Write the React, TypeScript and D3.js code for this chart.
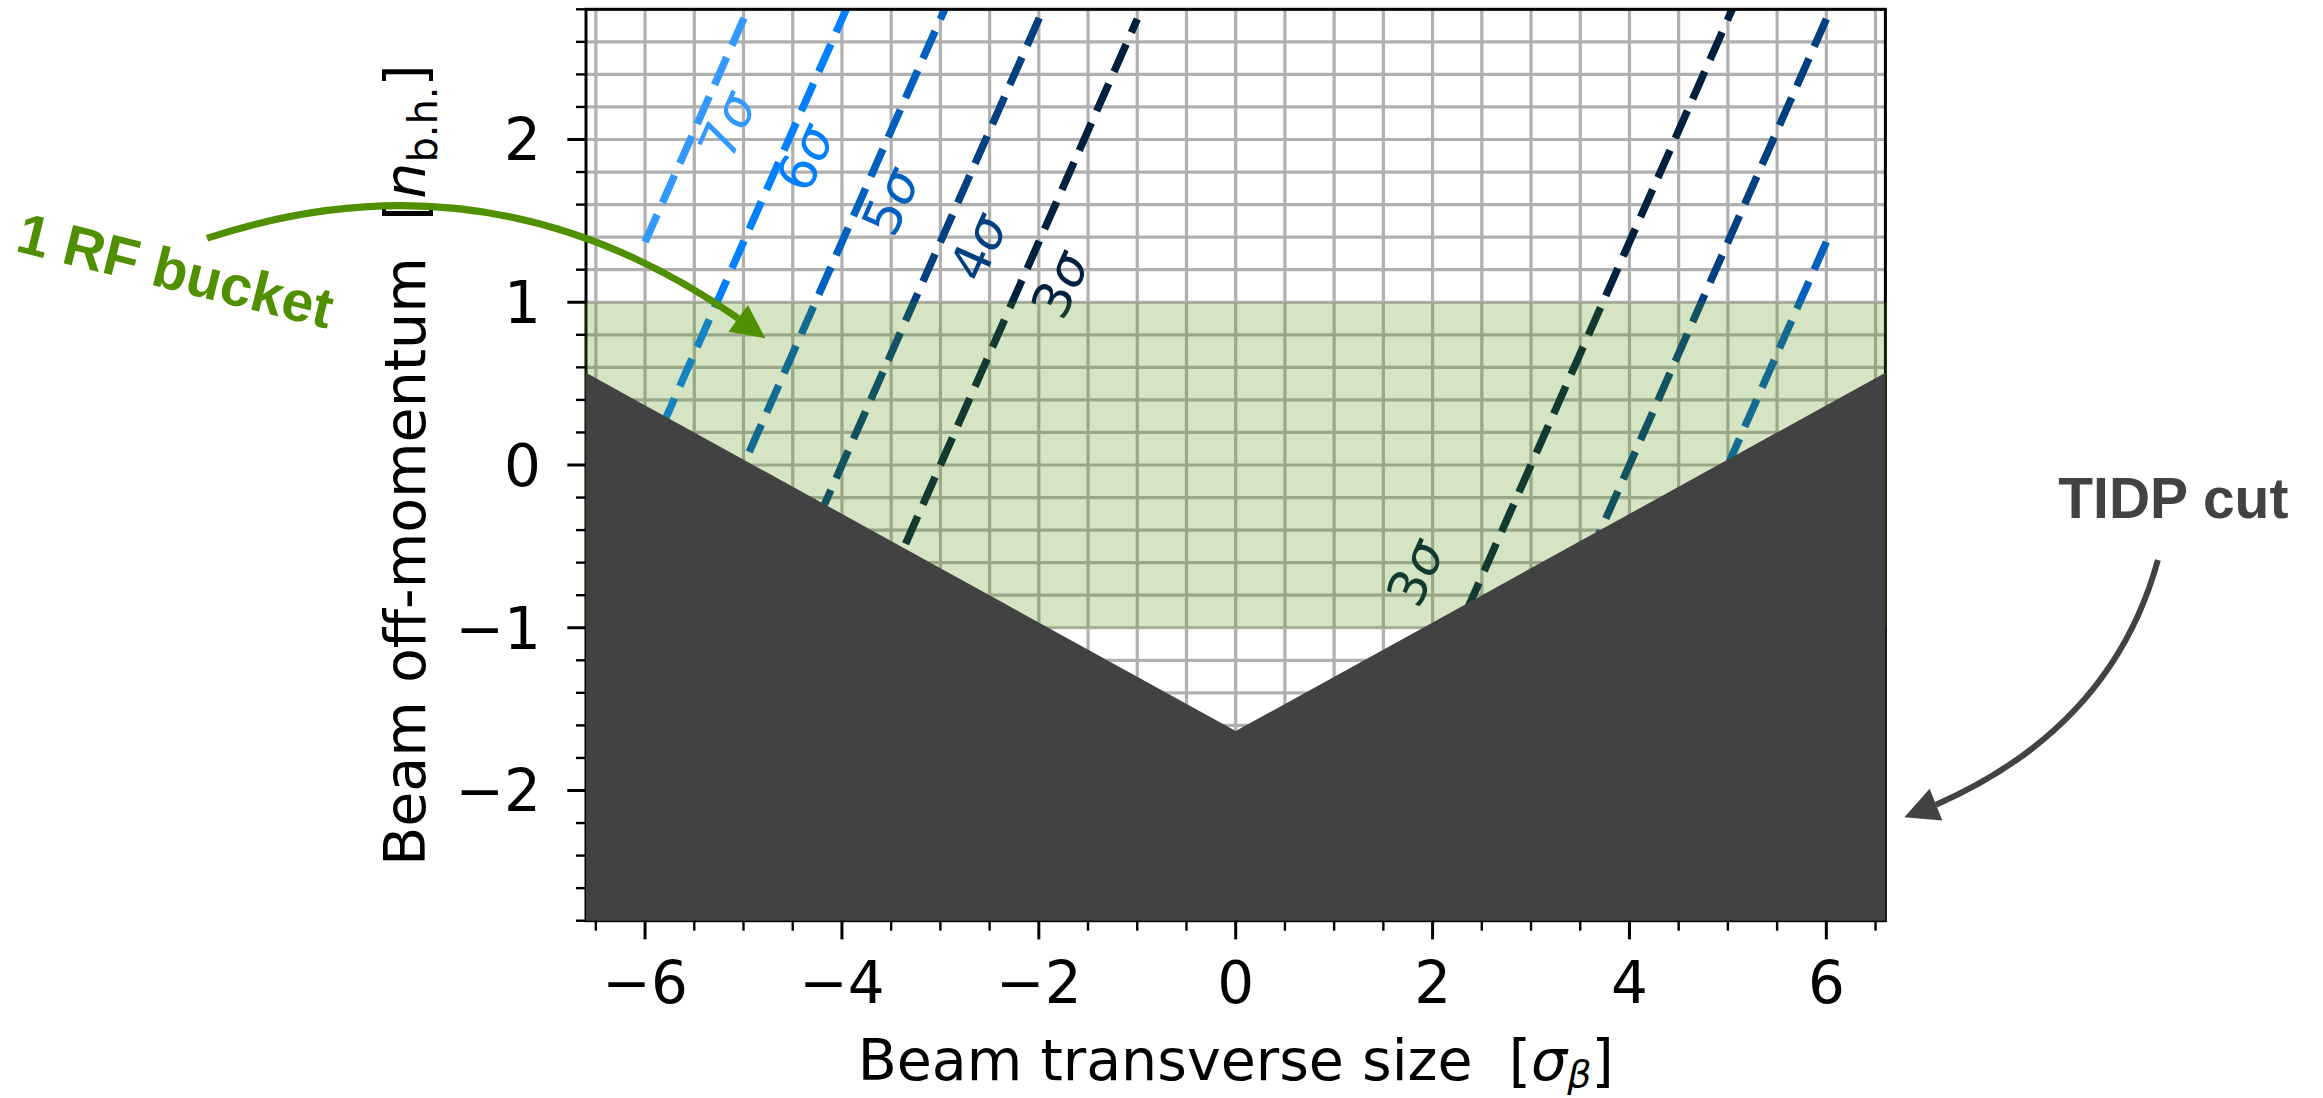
import React, { useEffect, useRef } from 'react'
import * as d3 from 'd3'

const WIDTH = 2323
const HEIGHT = 1098

// axes
const xDomain = [-6.6, 6.6]
const yDomain = [-2.8, 2.8]
const xTicks = [-6, -4, -2, 0, 2, 4, 6]
const yTicks = [-2, -1, 0, 1, 2]
const xMinorStep = 0.5
const yMinorStep = 0.2

// n-sigma envelopes, x = -n + slope*y (left) and x = n + slope*y (right)
const sigmaLeft = [7, 6, 5, 4, 3]
const sigmaRight = [3, 4, 5]
const sigmaColors = { 3: '#002040', 4: '#004080', 5: '#0060c0', 6: '#0080ff', 7: '#3399ff' }
const dispersionSlope = 0.73
const envelopeLimits = [1, 6]

// where the labels sit (data coords)
const leftLabelX = [-5.17, -4.38, -3.51, -2.62, -1.79]
const leftLabelY = [2.09, 1.89, 1.62, 1.34, 1.11]
const rightLabelX = [1.82]
const rightLabelY = [-0.66]

// RF bucket
const bucketLimits = [-1, 1]

// TIDP cut
const cutX = [-6.6, 0, 6.6]
const cutY = [0.567, -1.635, 0.567]

// annotations (data coords: start, control, tip)
const bucketArrow = [[-10.45, 1.393], [-7.42, 1.998], [-4.778, 0.779]]
const bucketText = [-10.77, 1.196]
const cutArrow = [[9.368, -0.584], [8.861, -1.703], [6.793, -2.165]]
const cutText = [9.525, -0.324]

const GREEN = '#4f8f00'
const GREY = '#424242'
const FONT = 'DejaVu Sans'
const BOLD = 'Liberation Sans, Arial, sans-serif'

function drawArrow(g, pts, color, width, headLen, headWidth) {
  const [S, C, E] = pts
  const B = (t) => [
    (1 - t) * (1 - t) * S[0] + 2 * t * (1 - t) * C[0] + t * t * E[0],
    (1 - t) * (1 - t) * S[1] + 2 * t * (1 - t) * C[1] + t * t * E[1],
  ]
  let t = 1
  while (t > 0) {
    const p = B(t)
    if (Math.hypot(E[0] - p[0], E[1] - p[1]) >= headLen) break
    t -= 0.002
  }
  const P = B(t)
  const Q = [(1 - t) * S[0] + t * C[0], (1 - t) * S[1] + t * C[1]]
  g.append('path')
    .attr('d', `M${S[0]},${S[1]} Q${Q[0]},${Q[1]} ${P[0]},${P[1]}`)
    .attr('fill', 'none')
    .attr('stroke', color)
    .attr('stroke-width', width)
  const len = Math.hypot(E[0] - P[0], E[1] - P[1])
  const u = [(E[0] - P[0]) / len, (E[1] - P[1]) / len]
  const n = [-u[1], u[0]]
  const hw = headWidth / 2
  g.append('path')
    .attr('d', `M${E[0]},${E[1]} L${P[0] + n[0] * hw},${P[1] + n[1] * hw} L${P[0] - n[0] * hw},${P[1] - n[1] * hw} Z`)
    .attr('fill', color)
}

export default function App() {
  const ref = useRef(null)

  useEffect(() => {
    const svg = d3.select(ref.current)
    svg.selectAll('*').remove()

    const x = d3.scaleLinear().domain(xDomain).range([586, 1885.4])
    const y = d3.scaleLinear().domain(yDomain).range([920.7, 9.3])
    const [x0, x1] = x.range()
    const [y0, y1] = [y(yDomain[1]), y(yDomain[0])]

    svg.append('rect').attr('width', WIDTH).attr('height', HEIGHT).attr('fill', '#fff')

    svg.append('defs').append('clipPath').attr('id', 'plot')
      .append('rect').attr('x', x0).attr('y', y0).attr('width', x1 - x0).attr('height', y1 - y0)

    const xMinor = d3.range(Math.round(xDomain[0] / xMinorStep), Math.round(xDomain[1] / xMinorStep) + 1).map(i => i * xMinorStep)
      .filter(v => v >= xDomain[0] && v <= xDomain[1])
    const yMinor = d3.range(Math.round(yDomain[0] / yMinorStep), Math.round(yDomain[1] / yMinorStep) + 1).map(i => +(i * yMinorStep).toFixed(2))

    // grid
    const grid = svg.append('g').attr('clip-path', 'url(#plot)')
    grid.selectAll('.gx').data(xMinor).enter().append('line')
      .attr('x1', d => x(d)).attr('x2', d => x(d)).attr('y1', y0).attr('y2', y1)
      .attr('stroke', '#b0b0b0').attr('stroke-width', 3.2)
    grid.selectAll('.gy').data(yMinor).enter().append('line')
      .attr('y1', d => y(d)).attr('y2', d => y(d)).attr('x1', x0).attr('x2', x1)
      .attr('stroke', '#b0b0b0').attr('stroke-width', 3.2)

    // envelopes
    const envelopes = [
      ...sigmaLeft.map((n, i) => ({ n, side: -1, lx: leftLabelX[i], ly: leftLabelY[i] })),
      ...sigmaRight.map((n, i) => ({ n, side: 1, lx: rightLabelX[i], ly: rightLabelY[i] })),
    ]
    const lines = svg.append('g').attr('clip-path', 'url(#plot)')
    const line = d3.line().x(d => x(d[0])).y(d => y(d[1]))
    envelopes.forEach(e => {
      const xs = e.side < 0 ? [-envelopeLimits[1], -envelopeLimits[0]] : [envelopeLimits[1], envelopeLimits[0]]
      const pts = xs.map(xv => [xv, (xv - e.side * e.n) / dispersionSlope])
      lines.append('path')
        .attr('d', line(pts))
        .attr('fill', 'none')
        .attr('stroke', sigmaColors[e.n])
        .attr('stroke-width', 7.5)
        .attr('stroke-dasharray', '30,13')
    })
    const angle = Math.atan2(y(1) - y(0), x(dispersionSlope) - x(0)) * 180 / Math.PI
    envelopes.filter(e => e.lx !== undefined).forEach(e => {
      const tx = lines.append('text')
        .attr('transform', `translate(${x(e.lx)},${y(e.ly)}) rotate(${angle})`)
        .attr('text-anchor', 'middle')
        .attr('dy', '0.36em')
        .attr('font-family', FONT)
        .attr('font-size', 52)
        .attr('fill', sigmaColors[e.n])
      tx.append('tspan').text(e.n)
      tx.append('tspan').attr('font-style', 'italic').text('σ')
    })

    // spines
    const spines = svg.append('g').attr('stroke', '#000').attr('stroke-width', 3).attr('fill', 'none')
    spines.append('rect').attr('x', x0).attr('y', y0).attr('width', x1 - x0).attr('height', y1 - y0)

    // RF bucket
    svg.append('rect')
      .attr('x', x0 - 1.5).attr('width', x1 - x0 + 3)
      .attr('y', y(bucketLimits[1])).attr('height', y(bucketLimits[0]) - y(bucketLimits[1]))
      .attr('fill', GREEN).attr('fill-opacity', 0.24)

    // TIDP cut
    const area = d3.area().x(d => x(d[0])).y0(y(yDomain[0])).y1(d => y(d[1]))
    svg.append('path')
      .attr('d', area(cutX.map((v, i) => [v, cutY[i]])))
      .attr('fill', GREY)

    // ticks
    const ticks = svg.append('g').attr('stroke', '#000')
    ticks.selectAll('.xM').data(xTicks).enter().append('line')
      .attr('x1', d => x(d)).attr('x2', d => x(d)).attr('y1', y1).attr('y2', y1 + 18.7).attr('stroke-width', 3)
    ticks.selectAll('.xm').data(xMinor.filter(v => !xTicks.includes(v))).enter().append('line')
      .attr('x1', d => x(d)).attr('x2', d => x(d)).attr('y1', y1).attr('y2', y1 + 10).attr('stroke-width', 2.4)
    ticks.selectAll('.yM').data(yTicks).enter().append('line')
      .attr('y1', d => y(d)).attr('y2', d => y(d)).attr('x1', x0).attr('x2', x0 - 18.7).attr('stroke-width', 3)
    ticks.selectAll('.ym').data(yMinor.filter(v => !yTicks.includes(v))).enter().append('line')
      .attr('y1', d => y(d)).attr('y2', d => y(d)).attr('x1', x0).attr('x2', x0 - 10).attr('stroke-width', 2.4)

    const fmt = (d) => (d < 0 ? '\u2212' + Math.abs(d) : String(d))
    svg.selectAll('.xl').data(xTicks).enter().append('text')
      .attr('x', d => x(d)).attr('y', 1003)
      .attr('text-anchor', 'middle')
      .attr('font-family', FONT).attr('font-size', 58)
      .text(fmt)
    svg.selectAll('.yl').data(yTicks).enter().append('text')
      .attr('x', 541).attr('y', d => y(d)).attr('dy', '0.36em')
      .attr('text-anchor', 'end')
      .attr('font-family', FONT).attr('font-size', 58)
      .text(fmt)

    // axis titles
    const xt = svg.append('text')
      .attr('x', x(0)).attr('y', 1080)
      .attr('text-anchor', 'middle')
      .attr('font-family', FONT).attr('font-size', 57)
      .style('white-space', 'pre')
    xt.append('tspan').text('Beam transverse size  [')
    xt.append('tspan').attr('font-style', 'italic').text('σ')
    xt.append('tspan').attr('font-style', 'italic').attr('font-size', 38).attr('dy', 7).text('β')
    xt.append('tspan').attr('dy', -7).text(']')

    const yt = svg.append('text')
      .attr('transform', `translate(425,${(y0 + y1) / 2}) rotate(-90)`)
      .attr('text-anchor', 'middle')
      .attr('font-family', FONT).attr('font-size', 57)
      .style('white-space', 'pre')
    yt.append('tspan').text('Beam off-momentum  [')
    yt.append('tspan').attr('font-style', 'italic').text('n')
    yt.append('tspan').attr('font-size', 40).attr('dy', 12).text('b.h.')
    yt.append('tspan').attr('dy', -12).text(']')

    // annotations
    const toPx = (p) => [x(p[0]), y(p[1])]
    drawArrow(svg, bucketArrow.map(toPx), GREEN, 7, 33, 33)
    drawArrow(svg, cutArrow.map(toPx), GREY, 6, 34, 34)

    svg.append('text')
      .attr('transform', `translate(${x(bucketText[0])},${y(bucketText[1])}) rotate(14)`)
      .attr('text-anchor', 'middle').attr('dy', '0.35em')
      .attr('font-family', BOLD).attr('font-weight', 'bold').attr('font-size', 57)
      .attr('fill', GREEN)
      .text('1 RF bucket')
    svg.append('text')
      .attr('x', x(cutText[0])).attr('y', y(cutText[1]))
      .attr('text-anchor', 'middle')
      .attr('font-family', BOLD).attr('font-weight', 'bold').attr('font-size', 57)
      .attr('fill', GREY)
      .text('TIDP cut')
  }, [])

  return (
    <svg
      ref={ref}
      width={WIDTH}
      height={HEIGHT}
      style={{ position: 'absolute', left: 0, top: 0, display: 'block' }}
    />
  )
}
